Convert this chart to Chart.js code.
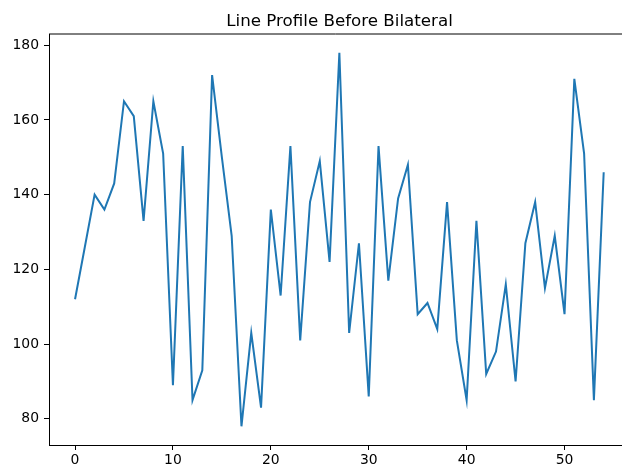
<!DOCTYPE html>
<html>
<head>
<meta charset="utf-8">
<script src="https://cdn.jsdelivr.net/npm/chart.js@4"></script>
<style>
  html, body { margin: 0; padding: 0; background: #fff; overflow: hidden; }
  #wrap { width: 622px; height: 475px; position: relative; }
</style>
</head>
<body>
<div id="wrap"><canvas id="profileChart"></canvas></div>
<script>
// Values
const titleText = 'Line Profile Before Bilateral';
const intensity = [112, 126, 140, 136, 143, 165, 161, 133, 165, 151,
                   89, 153, 85, 93, 172, 150, 129, 78, 103, 83,
                   136, 113, 153, 101, 138, 149, 122, 178, 103, 127,
                   86, 153, 117, 139, 148, 108, 111, 104, 138, 101,
                   85, 133, 92, 98, 116, 90, 127, 138, 115, 129,
                   108, 171, 151, 85, 146];
const positions = intensity.map((v, i) => i);
const xTicks = [0, 10, 20, 30, 40, 50];
const yTicks = [80, 100, 120, 140, 160, 180];

const tickFont = { family: 'DejaVu Sans', size: 13.9 };

// Title and top spine (matplotlib style)
const framePlugin = {
    id: 'frame',
    afterDraw(chart) {
        const { ctx, chartArea } = chart;
        ctx.save();
        ctx.strokeStyle = '#000';
        ctx.lineWidth = 1;
        ctx.beginPath();
        ctx.moveTo(chartArea.left, 34);
        ctx.lineTo(chartArea.right, 34);
        ctx.stroke();
        ctx.fillStyle = '#000';
        ctx.font = '16.7px "DejaVu Sans"';
        ctx.textAlign = 'center';
        ctx.textBaseline = 'alphabetic';
        ctx.fillText(titleText, 339.5, 26);
        ctx.restore();
    }
};

new Chart(document.getElementById('profileChart'), {
    type: 'line',
    data: {
        datasets: [{
            data: positions.map((x, i) => ({ x: x, y: intensity[i] })),
            borderColor: '#1f77b4',
            borderWidth: 2,
            pointRadius: 0,
            tension: 0,
            fill: false
        }]
    },
    options: {
        responsive: true,
        maintainAspectRatio: false,
        animation: false,
        layout: { padding: { top: 34, right: 0, left: 0, bottom: 0 } },
        plugins: {
            legend: { display: false },
            title: { display: false },
            tooltip: { enabled: false }
        },
        scales: {
            x: {
                type: 'linear',
                min: -2.66,
                max: 55.87,
                afterBuildTicks: s => { s.ticks = xTicks.map(v => ({ value: v })); },
                afterFit: s => { s.height = 30; },
                grid: {
                    drawOnChartArea: false,
                    drawTicks: true,
                    tickLength: 5,
                    tickColor: '#000'
                },
                border: { color: '#000', width: 1 },
                ticks: { color: '#000', font: tickFont, padding: 2, maxRotation: 0 }
            },
            y: {
                min: 73,
                max: 183,
                afterBuildTicks: s => { s.ticks = yTicks.map(v => ({ value: v })); },
                afterFit: s => { s.width = 49; },
                grid: {
                    drawOnChartArea: false,
                    drawTicks: true,
                    tickLength: 5,
                    tickColor: '#000'
                },
                border: { color: '#000', width: 1 },
                ticks: { color: '#000', font: tickFont, padding: 5 }
            }
        }
    },
    plugins: [framePlugin]
});
</script>
</body>
</html>
